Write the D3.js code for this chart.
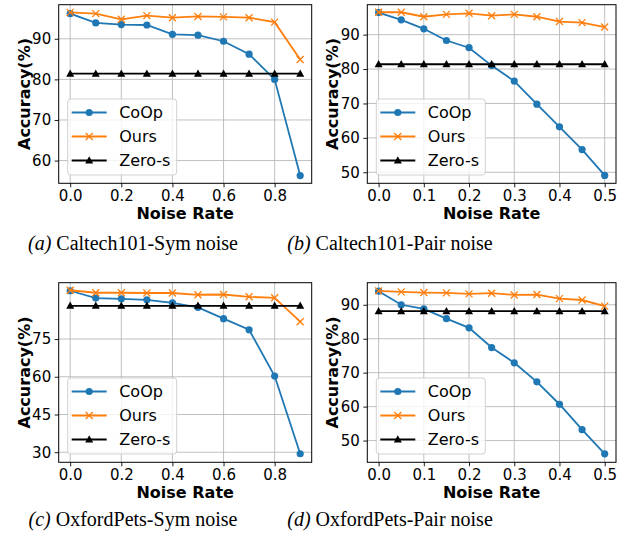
<!DOCTYPE html>
<html>
<head>
<meta charset="utf-8">
<script src="https://cdn.jsdelivr.net/npm/d3@7"></script>
<style>
  body { margin: 0; background: #fff; }
  svg { display: block; }
  .tick text { font-family: "DejaVu Sans", sans-serif; font-size: 15px; fill: #000; }
  .axlabel { font-family: "DejaVu Sans", sans-serif; font-size: 16px; font-weight: bold; }
  .leg text { font-family: "DejaVu Sans", sans-serif; font-size: 16px; }
  .cap { font-family: "Liberation Serif", "Times New Roman", serif; font-size: 20px; }
</style>
</head>
<body>
<svg id="fig" width="623" height="551"></svg>
<script>
// noise rates
var symRates = [0.0, 0.1, 0.2, 0.3, 0.4, 0.5, 0.6, 0.7, 0.8, 0.9];
var pairRates = [0.0, 0.05, 0.1, 0.15, 0.2, 0.25, 0.3, 0.35, 0.4, 0.45, 0.5];

// (a) Caltech101 sym
var calSymCoOp = [96.2, 93.9, 93.5, 93.4, 91.1, 90.9, 89.4, 86.2, 80.0, 56.3];
var calSymOurs = [96.5, 96.2, 94.8, 95.7, 95.2, 95.5, 95.4, 95.2, 94.1, 84.9];
var calSymZero = [81.4, 81.4, 81.4, 81.4, 81.4, 81.4, 81.4, 81.4, 81.4, 81.4];

// (b) Caltech101 pair
var calPairCoOp = [96.4, 94.3, 91.7, 88.3, 86.2, 81.0, 76.5, 69.8, 63.2, 56.6, 49.1];
var calPairOurs = [96.5, 96.5, 95.2, 95.9, 96.2, 95.5, 95.9, 95.2, 93.8, 93.5, 92.2];
var calPairZero = [81.4, 81.4, 81.4, 81.4, 81.4, 81.4, 81.4, 81.4, 81.4, 81.4, 81.4];

// (c) OxfordPets sym
var petSymCoOp = [94.2, 91.3, 91.0, 90.6, 89.4, 87.6, 83.1, 78.7, 60.3, 29.4];
var petSymOurs = [94.4, 93.4, 93.4, 93.3, 93.3, 92.6, 92.7, 91.8, 91.4, 81.9];
var petSymZero = [88.2, 88.2, 88.2, 88.2, 88.2, 88.2, 88.2, 88.2, 88.2, 88.2];

// (d) OxfordPets pair
var petPairCoOp = [94.0, 90.0, 88.8, 85.9, 83.2, 77.4, 72.9, 67.3, 60.7, 53.2, 46.1];
var petPairOurs = [94.1, 93.8, 93.6, 93.5, 93.2, 93.4, 92.9, 93.0, 91.8, 91.4, 89.6];
var petPairZero = [88.1, 88.1, 88.1, 88.1, 88.1, 88.1, 88.1, 88.1, 88.1, 88.1, 88.1];

var symTicks = [0.0, 0.2, 0.4, 0.6, 0.8];
var pairTicks = [0.0, 0.1, 0.2, 0.3, 0.4, 0.5];

var seriesNames = ["CoOp", "Ours", "Zero-s"];
var seriesColors = ["#1f77b4", "#ff7f0e", "#000000"];

var panels = [
  { x: symRates, ys: [calSymCoOp, calSymOurs, calSymZero], xt: symTicks, yt: [60, 70, 80, 90],
    xd: [-0.045, 0.945], yd: [54.4, 98.4], box: [58.7, 4.7, 311.7, 183.3],
    letter: "(a)", cap: " Caltech101-Sym noise", cx: 133, cy: 250 },
  { x: pairRates, ys: [calPairCoOp, calPairOurs, calPairZero], xt: pairTicks, yt: [50, 60, 70, 80, 90],
    xd: [-0.025, 0.525], yd: [46.8, 98.7], box: [367.3, 4.7, 616, 183.3],
    letter: "(b)", cap: " Caltech101-Pair noise", cx: 390, cy: 250 },
  { x: symRates, ys: [petSymCoOp, petSymOurs, petSymZero], xt: symTicks, yt: [30, 45, 60, 75],
    xd: [-0.045, 0.945], yd: [26.0, 97.4], box: [58.7, 282.7, 311.7, 462.3],
    letter: "(c)", cap: " OxfordPets-Sym noise", cx: 133, cy: 526 },
  { x: pairRates, ys: [petPairCoOp, petPairOurs, petPairZero], xt: pairTicks, yt: [50, 60, 70, 80, 90],
    xd: [-0.025, 0.525], yd: [43.6, 96.5], box: [367.3, 282.7, 616, 462.3],
    letter: "(d)", cap: " OxfordPets-Pair noise", cx: 390, cy: 526 }
];

var svg = d3.select("#fig");

function drawMarker(g, kind, color) {
  if (kind == 0) {
    g.append("circle").attr("r", 3.6).attr("fill", color);
  } else if (kind == 1) {
    g.append("path").attr("d", "M-3.5,-3.5L3.5,3.5M-3.5,3.5L3.5,-3.5")
      .attr("stroke", color).attr("stroke-width", 1.3).attr("fill", "none");
  } else {
    g.append("path").attr("d", "M0,-4.3L4,3L-4,3Z").attr("fill", color);
  }
}

panels.forEach(function(p) {
  var x0 = p.box[0], y0 = p.box[1], x1 = p.box[2], y1 = p.box[3];
  var xs = d3.scaleLinear().domain(p.xd).range([x0, x1]);
  var ys = d3.scaleLinear().domain(p.yd).range([y1, y0]);
  var g = svg.append("g");

  // grid
  g.selectAll(".gx").data(p.xt).enter().append("line")
    .attr("x1", d => xs(d)).attr("x2", d => xs(d)).attr("y1", y0).attr("y2", y1)
    .attr("stroke", "#b0b0b0").attr("stroke-width", 0.8);
  g.selectAll(".gy").data(p.yt).enter().append("line")
    .attr("x1", x0).attr("x2", x1).attr("y1", d => ys(d)).attr("y2", d => ys(d))
    .attr("stroke", "#b0b0b0").attr("stroke-width", 0.8);

  // axes
  var xa = g.append("g").attr("transform", "translate(0," + y1 + ")")
    .call(d3.axisBottom(xs).tickValues(p.xt).tickFormat(d3.format(".1f")).tickSize(4).tickPadding(3.5));
  var ya = g.append("g").attr("transform", "translate(" + x0 + ",0)")
    .call(d3.axisLeft(ys).tickValues(p.yt).tickFormat(d3.format("d")).tickSize(4).tickPadding(3.5));
  [xa, ya].forEach(function(a) {
    a.select(".domain").remove();
    a.selectAll(".tick line").attr("stroke", "#000").attr("stroke-width", 0.9);
  });

  // series
  p.ys.forEach(function(vals, si) {
    var pts = vals.map((v, i) => [p.x[i], v]);
    g.append("path").datum(pts)
      .attr("d", d3.line().x(d => xs(d[0])).y(d => ys(d[1])))
      .attr("fill", "none").attr("stroke", seriesColors[si]).attr("stroke-width", 1.8);
    pts.forEach(function(d) {
      var m = g.append("g").attr("transform", "translate(" + xs(d[0]) + "," + ys(d[1]) + ")");
      drawMarker(m, si, seriesColors[si]);
    });
  });

  // frame
  g.append("rect").attr("x", x0).attr("y", y0).attr("width", x1 - x0).attr("height", y1 - y0)
    .attr("fill", "none").attr("stroke", "#000").attr("stroke-width", 1);

  // legend
  var lx = x0 + 9, lw = 109, lh = 76, ly = y1 - 8.3 - lh;
  var leg = g.append("g").attr("class", "leg");
  leg.append("rect").attr("x", lx).attr("y", ly).attr("width", lw).attr("height", lh)
    .attr("rx", 3).attr("fill", "#fff").attr("fill-opacity", 0.8)
    .attr("stroke", "#cccccc").attr("stroke-width", 0.9);
  seriesNames.forEach(function(name, si) {
    var ry = ly + 13.5 + si * 24;
    leg.append("line").attr("x1", lx + 4).attr("x2", lx + 39).attr("y1", ry).attr("y2", ry)
      .attr("stroke", seriesColors[si]).attr("stroke-width", 1.8);
    var m = leg.append("g").attr("transform", "translate(" + (lx + 21.5) + "," + ry + ")");
    drawMarker(m, si, seriesColors[si]);
    leg.append("text").attr("x", lx + 51.5).attr("y", ry + 5.8).text(name);
  });

  // axis labels
  g.append("text").attr("class", "axlabel").attr("text-anchor", "middle")
    .attr("x", (x0 + x1) / 2).attr("y", y1 + 36).text("Noise Rate");
  g.append("text").attr("class", "axlabel").attr("text-anchor", "middle")
    .attr("transform", "translate(" + (x0 - 29) + "," + ((y0 + y1) / 2) + ") rotate(-90)")
    .text("Accuracy(%)");

  // caption
  var c = g.append("text").attr("class", "cap").attr("text-anchor", "middle")
    .attr("x", p.cx).attr("y", p.cy);
  c.append("tspan").attr("font-style", "italic").text(p.letter);
  c.append("tspan").text(p.cap);
});
</script>
</body>
</html>
